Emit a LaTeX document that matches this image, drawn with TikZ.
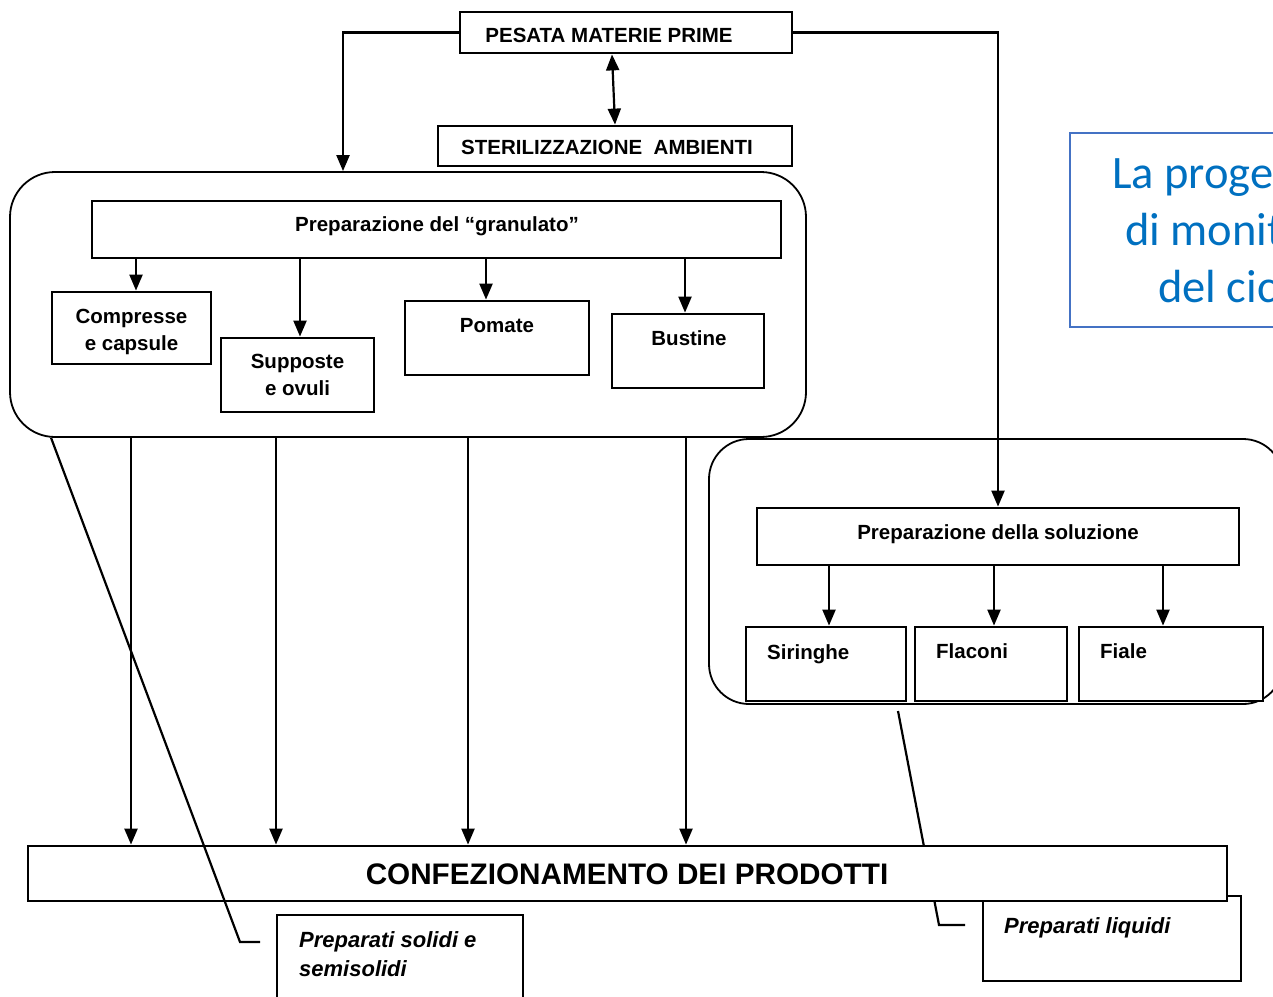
\documentclass[tikz,border=0pt]{standalone}
\usepackage{fontspec}
\setmainfont{Liberation Sans}
\newfontfamily\calibri{Carlito}
\usetikzlibrary{positioning}
\usetikzlibrary{arrows.meta}
\definecolor{boxblue}{RGB}{68,114,196}
\definecolor{textblue}{RGB}{0,112,192}

\begin{document}
\begin{tikzpicture}[x=1pt,y=-1pt,
    box/.style={draw,fill=white,line width=2.8pt,inner sep=0pt},
    grp/.style={draw,line width=1.8pt,rounded corners=45pt,inner sep=0pt},
    lbl/.style={font=\bfseries\fontsize{20.5}{27}\selectfont,inner sep=0pt},
    ital/.style={font=\bfseries\itshape\fontsize{22}{29}\selectfont,inner sep=0pt,align=left},
    link/.style={line width=2.2pt},
    arr/.style={line width=2.2pt,-{Triangle[length=16pt,width=13pt]}},
    dbl/.style={line width=2.2pt,{Triangle[length=16pt,width=13pt]}-{Triangle[length=16pt,width=13pt]}}]
    \useasboundingbox (0,0) rectangle (1273,996);
    \clip (0,0) rectangle (1273,996);

    % the two rounded groups
    \node[grp,minimum width=796,minimum height=265] (grpSolidi) at (408,304.5) {};
    \node[grp,minimum width=574,minimum height=265,rounded corners=40pt] (grpLiquidi) at (996,571.5) {};

    % top
    \node[box,minimum width=332,minimum height=41] (pesata) at (626,32.5) {};
    \node[lbl,anchor=base] (pesataT) at (609,42) {PESATA MATERIE PRIME};
    \node[box,minimum width=354,minimum height=40] (steril) at (615,146) {};
    \node[lbl,anchor=base] (sterilT) at (607,154) {STERILIZZAZIONE\ \ AMBIENTI};

    % solids
    \node[box,minimum width=689,minimum height=57] (granulato) at (436.5,229.5) {};
    \node[lbl,anchor=base] (granulatoT) at (437,231) {Preparazione del “granulato”};
    \node[box,minimum width=159,minimum height=72] (compresse) at (131.5,328) {};
    \node[lbl,align=center,anchor=north] (compresseT) at (131.5,309) {Compresse\\e capsule};
    \node[box,minimum width=153,minimum height=74,align=center,font=\bfseries\fontsize{20.5}{27}\selectfont] (supposte) at (297.5,375) {Supposte\\e ovuli};
    \node[box,minimum width=184,minimum height=74] (pomate) at (497,338) {};
    \node[lbl,anchor=base] (pomateT) at (497,332) {Pomate};
    \node[box,minimum width=152,minimum height=74] (bustine) at (688,351) {};
    \node[lbl,anchor=base] (bustineT) at (689,345) {Bustine};

    % liquids
    \node[box,minimum width=482,minimum height=57] (soluzione) at (998,536.5) {};
    \node[lbl,anchor=base] (soluzioneT) at (998,539) {Preparazione della soluzione};
    \node[box,minimum width=160,minimum height=74] (siringhe) at (826,664) {};
    \node[lbl,anchor=base west] (siringheT) at (767,659) {Siringhe};
    \node[box,minimum width=152,minimum height=74] (flaconi) at (991,664) {};
    \node[lbl,anchor=base west] (flaconiT) at (936,658) {Flaconi};
    \node[box,minimum width=184,minimum height=74] (fiale) at (1171,664) {};
    \node[lbl,anchor=base west] (fialeT) at (1100,658) {Fiale};

    % blue box on the right, cut by the border
    \node[draw=boxblue,line width=2.5pt,minimum width=240,minimum height=194,inner sep=0pt] (progetto) at (1190,230) {};
    \foreach \x/\y/\t in {1112/188/La proge,1125/245/di monit,1158/302/del cic}
        \node[font=\calibri\fontsize{46.5}{57}\selectfont,text=textblue,anchor=base west,inner sep=0pt] at (\x,\y) {\t};

    % labels at the bottom
    \node[box,minimum width=246,minimum height=90] (solidi) at (400,960) {};
    \node[ital,anchor=west] (solidiT) at (299,954.5) {Preparati solidi e\\semisolidi};
    \node[box,minimum width=258,minimum height=85] (liquidi) at (1112,938.5) {};
    \node[ital,anchor=base west] (liquidiT) at (1004,933) {Preparati liquidi};
    \coordinate (liqStart) at (898,711);
    \coordinate (liqBend) at (939,925);
    \coordinate (liqEnd) at (965,925);
    \draw[link] (liqStart) -- (liqBend) -- (liqEnd);

    \node[box,minimum width=1199,minimum height=55] (confez) at (627.5,873.5) {};
    \node[anchor=base,inner sep=0pt,font=\bfseries\fontsize{29.7}{36}\selectfont] (confezT) at (627,884.5) {CONFEZIONAMENTO DEI PRODOTTI};

    \coordinate (solBend) at (240,942);
    \coordinate (solEnd) at (260,942);
    \draw[link] ([xshift=42pt]grpSolidi.south west) -- (solBend) -- (solEnd);

    % connectors
    \draw[arr] (pesata.west) -| ([xshift=-65pt]grpSolidi.north);
    \draw[arr] (pesata.east) -| (soluzione.north);
    \draw[dbl] ([xshift=-14pt]pesata.south) -- (steril.north);

    \foreach \n/\s in {compresse/4.5,supposte/2.5,pomate/-11,bustine/-3} % from the granulato
        \draw[arr] ([xshift=\s pt]granulato.south -| \n.north) -- ([xshift=\s pt]\n.north);
    \foreach \n/\s in {siringhe/3,flaconi/3,fiale/-8} % from the solution
        \draw[arr] ([xshift=\s pt]soluzione.south -| \n.north) -- ([xshift=\s pt]\n.north);
    \foreach \n/\s in {compresse/-0.5,supposte/-21.5,pomate/-29,bustine/-2} % down to packaging
        \draw[arr] ([xshift=\s pt]grpSolidi.south -| \n.north) -- ([xshift=\s pt]confez.north -| \n.north);
\end{tikzpicture}
\end{document}
